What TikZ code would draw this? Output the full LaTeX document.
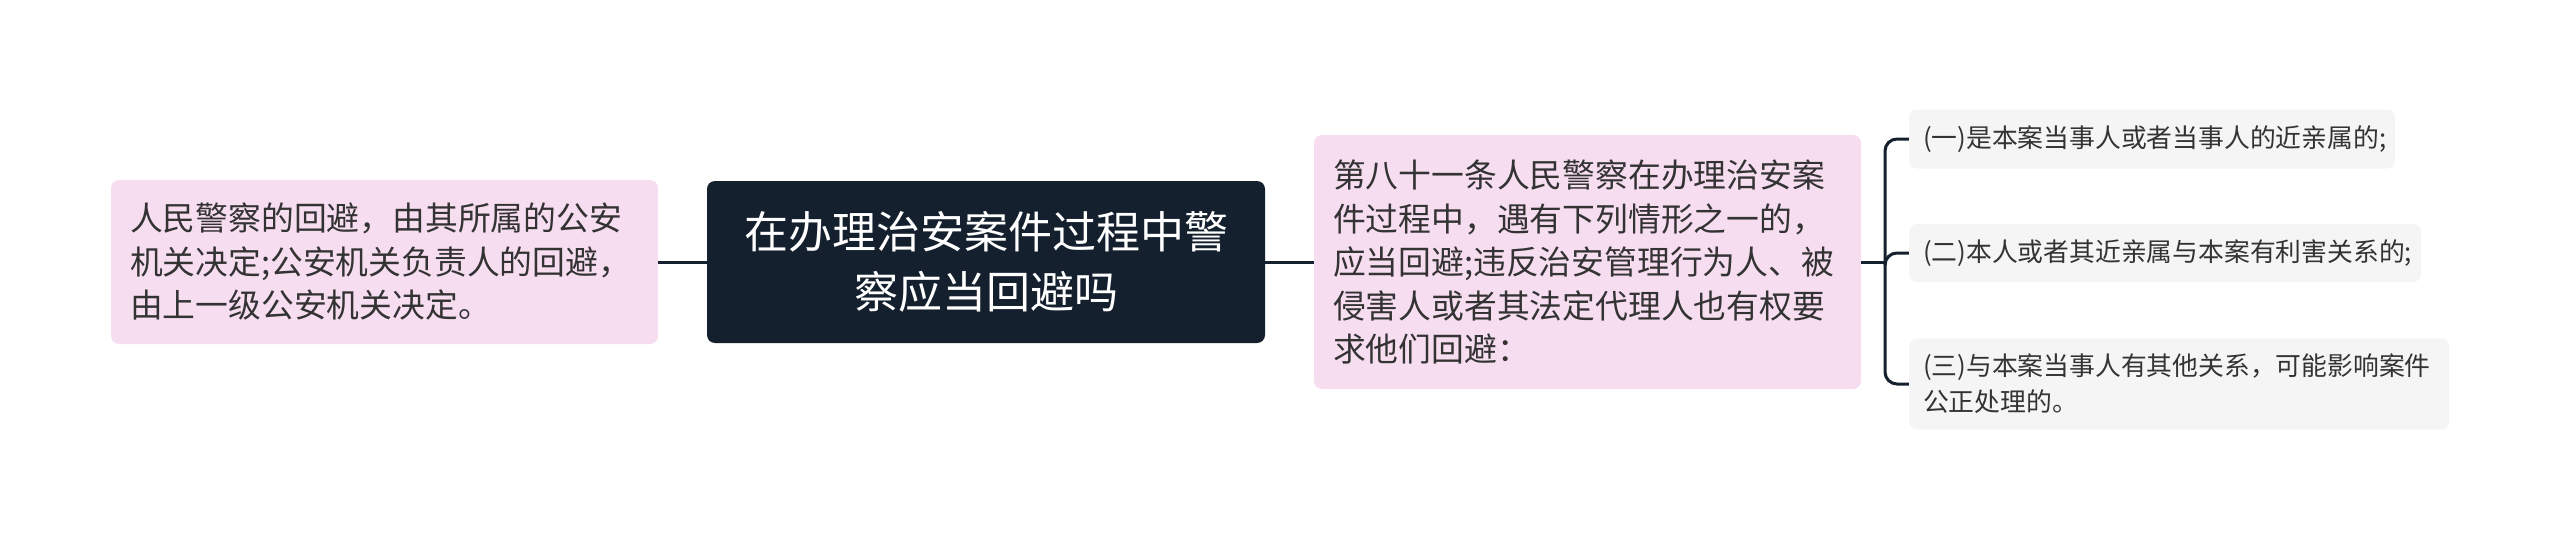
\documentclass[tikz,border=0pt]{standalone}
\usepackage{fontspec}
\setmainfont{Noto Sans CJK SC}
\usepackage{tikz}

\definecolor{navy}{HTML}{15202E}
\definecolor{pinkbox}{HTML}{F7DDF0}
\definecolor{greybox}{HTML}{F5F5F5}
\definecolor{txt}{HTML}{333333}

\begin{document}
\begin{tikzpicture}[x=1pt,y=-1pt,
    topic/.style={fill=navy, text=white, rounded corners=8, minimum width=558, minimum height=162,
      align=center, font=\fontsize{44}{60}\selectfont},
    pinknote/.style={fill=pinkbox, text=txt, rounded corners=8, inner xsep=19, align=left,
      font=\fontsize{32.8}{43.5}\selectfont},
    greynote/.style={fill=greybox, text=txt, rounded corners=8, inner xsep=14, align=left,
      font=\fontsize{25.8}{36}\selectfont},
    link/.style={draw=navy, line width=3}]
          \useasboundingbox (0,0) rectangle (2560,541);
          \node[topic] (main) at (986,262) {在办理治安案件过程中警\\察应当回避吗};
          \node[pinknote, text width=509, minimum height=164] (left) at (384.5,262)
            {人民警察的回避，由其所属的公安\\机关决定;公安机关负责人的回避，\\由上一级公安机关决定。};
          \node[pinknote, text width=509, minimum height=254] (law) at (1587.5,262)
            {第八十一条人民警察在办理治安案\\件过程中，遇有下列情形之一的，\\应当回避;违反治安管理行为人、被\\侵害人或者其法定代理人也有权要\\求他们回避：};
          \node[greynote, text width=458, minimum height=59] (c1) at (2152,139)
            {(一)是本案当事人或者当事人的近亲属的;};
          \node[greynote, text width=484, minimum height=58] (c2) at (2165,253)
            {(二)本人或者其近亲属与本案有利害关系的;};
          \node[greynote, text width=512, minimum height=91] (c3) at (2179,384)
            {(三)与本案当事人有其他关系，可能影响案件\\公正处理的。};
          \coordinate (fork) at (1885,262);
          \draw[link] (left.east) -- (main.west);
          \draw[link] (main.east) -- (law.west);
          \draw[link] (law.east) -- (fork);
          \draw[link, rounded corners=12] (fork) |- (c1.west);
          \draw[link, rounded corners=12] (fork) |- (c2.west);
          \draw[link, rounded corners=12] (fork) |- (c3.west);
        \end{tikzpicture}
\end{document}
